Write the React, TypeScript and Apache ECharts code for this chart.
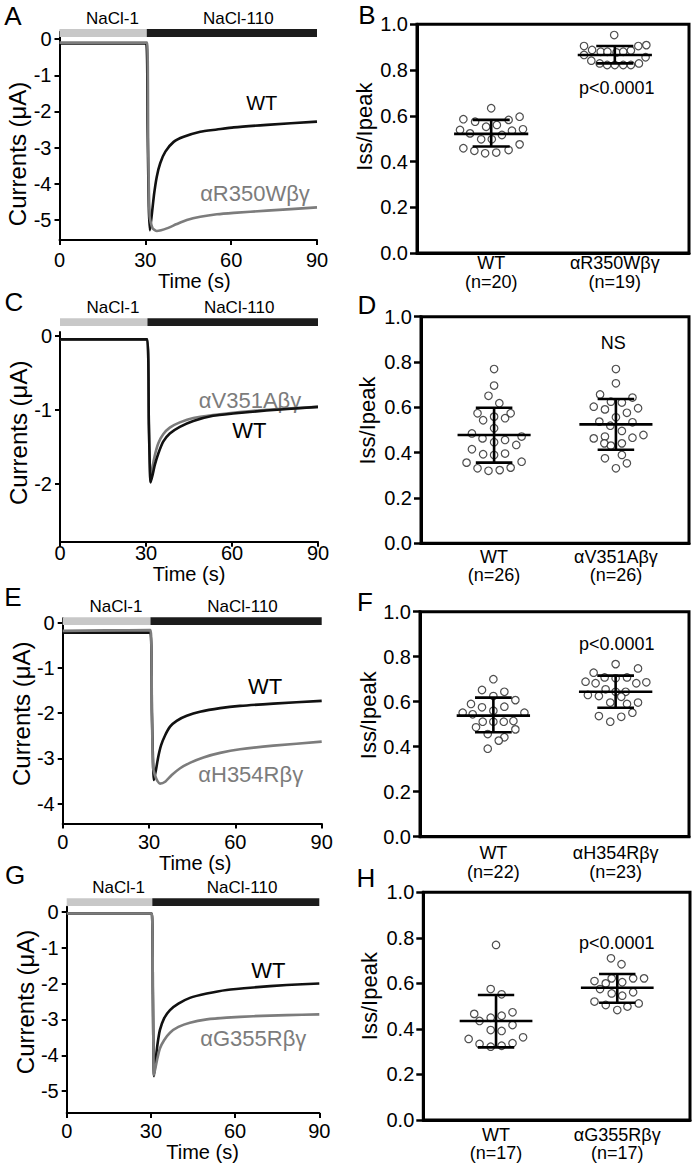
import React, { useEffect, useRef } from "react";
import * as echarts from "echarts";

const FONT = '"Liberation Sans", Arial, Helvetica, sans-serif';

// ---------------- Current traces (time in s, current in µA) ----------------
const timeTicks = [0, 30, 60, 90];
const stimStart = [0, 30.5];
const stimEnd = [30.5, 90];
const stimLabelTime = [18.5, 62.5];
const stimNames = ["NaCl-1", "NaCl-110"];

// Panel A
const tA_WT = [0, 15, 30.3, 30.8, 31.2, 31.6, 32.3, 33.1, 34, 35.2, 37, 39.9, 43.4, 49.2, 55, 60.9, 72.5, 90];
const iA_WT = [-0.12, -0.12, -0.12, -2.5, -4.6, -5.28, -4.82, -4.26, -3.8, -3.43, -3.11, -2.84, -2.7, -2.56, -2.5, -2.44, -2.37, -2.28];
const tA_MUT = [0, 15, 30.6, 31.0, 31.5, 32.5, 34, 35.5, 37.5, 41, 44.5, 49.2, 55, 60.9, 72.5, 90];
const iA_MUT = [-0.1, -0.1, -0.1, -3.0, -4.9, -5.22, -5.3, -5.28, -5.23, -5.11, -5.0, -4.91, -4.84, -4.8, -4.74, -4.65];
const ticksA = [0, -1, -2, -3, -4, -5];

// Panel C
const tC_WT = [0, 15, 30.4, 31.0, 31.6, 32.3, 33.1, 34.3, 36, 38.3, 41.8, 46.5, 53.4, 60.4, 72, 90];
const iC_WT = [-0.05, -0.05, -0.05, -1.2, -1.98, -1.88, -1.74, -1.59, -1.43, -1.32, -1.23, -1.15, -1.08, -1.05, -1.01, -0.96];
const tC_MUT = [0, 15, 30.4, 31.0, 31.6, 32.3, 33.1, 34.3, 36, 38.3, 41.8, 46.5, 53.4, 60.4, 72, 90];
const iC_MUT = [-0.05, -0.05, -0.05, -1.2, -1.97, -1.77, -1.61, -1.45, -1.33, -1.24, -1.17, -1.11, -1.07, -1.04, -1.0, -0.96];
const ticksC = [0, -1, -2];

// Panel E
const tE_WT = [0, 15, 30.5, 31.0, 31.7, 32.4, 33.2, 34.2, 35.6, 37.3, 39.6, 43.1, 47.7, 54.7, 61.6, 73.2, 90];
const iE_WT = [-0.22, -0.22, -0.22, -2.0, -3.48, -3.26, -2.97, -2.71, -2.49, -2.3, -2.17, -2.06, -1.97, -1.89, -1.84, -1.79, -1.73];
const tE_MUT = [0, 15, 30.5, 31.0, 31.4, 32.1, 32.9, 33.8, 35.6, 37.9, 40.8, 44.2, 48.9, 54.7, 61.6, 73.2, 90];
const iE_MUT = [-0.18, -0.17, -0.16, -2.0, -3.2, -3.38, -3.5, -3.56, -3.52, -3.37, -3.22, -3.1, -2.98, -2.88, -2.8, -2.72, -2.63];
const ticksE = [0, -1, -2, -3, -4];

// Panel G
const tG_WT = [0, 15, 30.3, 30.7, 31.1, 31.7, 32.3, 33.2, 34.7, 36.8, 39.8, 43.9, 49.9, 57, 66.5, 78.4, 90];
const iG_WT = [-0.05, -0.05, -0.05, -2.3, -4.58, -4.14, -3.72, -3.3, -2.97, -2.74, -2.56, -2.4, -2.28, -2.18, -2.11, -2.04, -2.0];
const tG_MUT = [0, 15, 30.3, 30.7, 31.1, 31.7, 32.3, 33.2, 34.7, 36.8, 39.8, 43.9, 49.9, 57, 66.5, 78.4, 90];
const iG_MUT = [-0.05, -0.05, -0.05, -2.3, -4.55, -4.32, -4.09, -3.81, -3.58, -3.37, -3.21, -3.09, -3.0, -2.95, -2.91, -2.88, -2.86];
const ticksG = [0, -1, -2, -3, -4, -5];

// ---------------- Iss/Ipeak scatter data ----------------
const ratioTicks = [0, 0.2, 0.4, 0.6, 0.8, 1.0];

// Panel B
const catsB = ["WT", "αR350Wβγ"];
const nB = [20, 19];
const bWtVals = [0.633, 0.585, 0.574, 0.582, 0.596, 0.552, 0.56, 0.538, 0.523, 0.535, 0.541, 0.516, 0.497, 0.497, 0.458, 0.447, 0.436, 0.439, 0.45, 0.475];
const bWtOffs = [0, -0.225, -0.13, 0.141, 0.23, -0.041, 0.046, -0.252, -0.171, 0.168, 0.257, 0.087, -0.081, 0.005, -0.225, -0.136, -0.049, 0.041, 0.141, 0.23];
const bMutVals = [0.953, 0.905, 0.888, 0.88, 0.88, 0.877, 0.88, 0.885, 0.905, 0.909, 0.866, 0.856, 0.841, 0.829, 0.822, 0.822, 0.822, 0.822, 0.829];
const bMutOffs = [-0.005, -0.249, -0.184, -0.114, -0.06, 0.014, 0.068, 0.13, 0.19, 0.255, -0.249, 0.249, -0.19, -0.122, -0.062, 0, 0.068, 0.13, 0.195];
const bMean = [0.521, 0.866];
const bLow = [0.466, 0.829];
const bHigh = [0.582, 0.905];

// Panel D
const catsD = ["WT", "αV351Aβγ"];
const nD = [26, 26];
const dWtVals = [0.769, 0.696, 0.651, 0.618, 0.574, 0.559, 0.574, 0.543, 0.552, 0.508, 0.485, 0.463, 0.446, 0.456, 0.471, 0.434, 0.415, 0.393, 0.39, 0.396, 0.356, 0.36, 0.331, 0.32, 0.323, 0.334];
const dWtOffs = [0, 0, -0.046, 0.043, -0.136, 0, 0.136, -0.09, 0.09, 0, -0.182, -0.095, 0, 0.09, 0.226, 0.182, -0.182, -0.09, 0, 0.09, -0.226, 0.226, -0.136, -0.046, 0.046, 0.136];
const dMutVals = [0.769, 0.706, 0.657, 0.643, 0.625, 0.621, 0.603, 0.591, 0.596, 0.556, 0.576, 0.537, 0.519, 0.534, 0.496, 0.463, 0.471, 0.466, 0.478, 0.441, 0.431, 0.441, 0.375, 0.39, 0.353, 0.331];
const dMutOffs = [0, 0, -0.13, 0.136, -0.041, 0.049, -0.182, -0.09, 0.182, 0, 0.09, -0.136, -0.046, 0.136, 0.049, -0.182, -0.09, 0.136, 0.226, -0.095, -0.041, 0.049, -0.09, 0.049, 0.09, 0];
const dMean = [0.478, 0.525];
const dLow = [0.356, 0.413];
const dHigh = [0.598, 0.637];

// Panel F
const catsF = ["WT", "αH354Rβγ"];
const nF = [22, 23];
const fWtVals = [0.7, 0.652, 0.644, 0.625, 0.607, 0.59, 0.575, 0.578, 0.56, 0.551, 0.544, 0.551, 0.511, 0.511, 0.511, 0.514, 0.486, 0.477, 0.456, 0.442, 0.427, 0.391];
const fWtOffs = [0, -0.093, 0.09, 0, 0.18, -0.183, -0.093, 0.09, 0, -0.251, -0.169, 0.254, -0.087, 0, 0.085, 0.164, -0.142, 0.18, -0.046, 0.09, 0.044, -0.046];
const fMutVals = [0.767, 0.729, 0.748, 0.708, 0.704, 0.708, 0.689, 0.682, 0.682, 0.686, 0.655, 0.644, 0.644, 0.63, 0.625, 0.622, 0.596, 0.59, 0.596, 0.551, 0.536, 0.511, 0.533];
const fMutOffs = [0, -0.18, 0.183, -0.09, 0, 0.093, -0.246, -0.164, 0.169, 0.251, -0.082, 0, 0.082, -0.227, -0.137, 0.046, -0.044, 0.093, 0.183, 0.137, -0.137, -0.044, 0.046];
const fMean = [0.538, 0.644];
const fLow = [0.464, 0.573];
const fHigh = [0.618, 0.716];

// Panel H
const catsH = ["WT", "αG355Rβγ"];
const nH = [17, 17];
const hWtVals = [0.769, 0.575, 0.552, 0.466, 0.435, 0.449, 0.458, 0.473, 0.417, 0.395, 0.391, 0.363, 0.356, 0.334, 0.322, 0.326, 0.337];
const hWtOffs = [0, -0.044, 0.046, -0.18, -0.136, -0.044, 0.046, 0.136, 0.136, -0.044, 0.046, 0.223, -0.226, -0.136, -0.044, 0.046, 0.136];
const hMutVals = [0.71, 0.684, 0.61, 0.6, 0.622, 0.605, 0.622, 0.622, 0.575, 0.556, 0.546, 0.561, 0.52, 0.505, 0.483, 0.498, 0.512];
const hMutOffs = [-0.052, 0.035, -0.188, -0.095, -0.046, 0.041, 0.131, 0.221, -0.142, -0.046, 0.041, 0.131, -0.188, -0.095, 0, 0.084, 0.177];
const hMean = [0.435, 0.581];
const hLow = [0.319, 0.515];
const hHigh = [0.549, 0.641];

// ---------------- Layout (pixels) ----------------
const tracePanels = [
  {
    letter: "A", letterPos: [13, 16],
    grid: { left: 59.5, top: 31.8, width: 257.5, height: 208.2 },
    yMin: -5.55, yMax: 0.2, ticks: ticksA,
    wt: [tA_WT, iA_WT], mut: [tA_MUT, iA_MUT], mutName: "αR350Wβγ",
    xLabelMargin: 10, xNameGap: 25, xNameShift: 6, yNameGap: 30.5, yNameShift: 18,
    bar: [0.055, 0.276], wtLabel: [261.7, 103.3, 20], mutLabel: [255, 193.3], wtOnTop: false,
  },
  {
    letter: "C", letterPos: [14, 302],
    grid: { left: 60, top: 332, width: 258, height: 209.7 },
    yMin: -2.78, yMax: 0.05, ticks: ticksC,
    wt: [tC_WT, iC_WT], mut: [tC_MUT, iC_MUT], mutName: "αV351Aβγ",
    xLabelMargin: 1, xNameGap: 20, xNameShift: 0, yNameGap: 27, yNameShift: -4,
    bar: [0.13, 0.235], wtLabel: [249.3, 430, 22], mutLabel: [250, 400], wtOnTop: true,
  },
  {
    letter: "E", letterPos: [13, 597],
    grid: { left: 62.7, top: 618.2, width: 259, height: 205.2 },
    yMin: -4.44, yMax: 0.1, ticks: ticksE,
    wt: [tE_WT, iE_WT], mut: [tE_MUT, iE_MUT], mutName: "αH354Rβγ",
    xLabelMargin: 8.3, xNameGap: 25, xNameShift: 3, yNameGap: 28, yNameShift: -7,
    bar: [-0.05, 0.12], wtLabel: [265, 686.7, 22], mutLabel: [250.7, 774], wtOnTop: false,
  },
  {
    letter: "G", letterPos: [15, 875],
    grid: { left: 66.7, top: 906.7, width: 252.6, height: 206.4 },
    yMin: -5.61, yMax: 0.14, ticks: ticksG,
    wt: [tG_WT, iG_WT], mut: [tG_MUT, iG_MUT], mutName: "αG355Rβγ",
    xLabelMargin: 8.3, xNameGap: 27, xNameShift: 9.5, yNameGap: 28.7, yNameShift: -8,
    bar: [0.16, 0.373], wtLabel: [268.3, 970, 22], mutLabel: [253.3, 1038.3], wtOnTop: false,
  },
];

const scatterPanels = [
  {
    letter: "B", letterPos: [367, 15],
    grid: { left: 417, top: 24.3, width: 272, height: 228.7 },
    cats: catsB, ns: nB, wt: [bWtOffs, bWtVals], mut: [bMutOffs, bMutVals],
    mean: bMean, low: bLow, high: bHigh,
    labelMargin: 1, yNameGap: 42, yNameShift: -12, note: "p<0.0001", notePos: [616.7, 88.3],
  },
  {
    letter: "D", letterPos: [367, 305],
    grid: { left: 421, top: 316.7, width: 268, height: 226.6 },
    cats: catsD, ns: nD, wt: [dWtOffs, dWtVals], mut: [dMutOffs, dMutVals],
    mean: dMean, low: dLow, high: dHigh,
    labelMargin: 4.2, yNameGap: 42.5, yNameShift: -9.5, note: "NS", notePos: [613.3, 343.3],
  },
  {
    letter: "F", letterPos: [365, 602],
    grid: { left: 420, top: 611.7, width: 269, height: 225 },
    cats: catsF, ns: nF, wt: [fWtOffs, fWtVals], mut: [fMutOffs, fMutVals],
    mean: fMean, low: fLow, high: fHigh,
    labelMargin: 7.3, yNameGap: 40, yNameShift: -9, note: "p<0.0001", notePos: [616.7, 644],
  },
  {
    letter: "H", letterPos: [366, 878],
    grid: { left: 423.3, top: 892.3, width: 266.7, height: 227.7 },
    cats: catsH, ns: nH, wt: [hWtOffs, hWtVals], mut: [hMutOffs, hMutVals],
    mean: hMean, low: hLow, high: hHigh,
    labelMargin: 5.7, yNameGap: 43, yNameShift: -10, note: "p<0.0001", notePos: [616.7, 942.7],
  },
];

// shift a centered axis name along its reading direction using padding
function shiftPad(shift: number) {
  return shift >= 0 ? [0, 0, 0, 2 * shift] : [0, -2 * shift, 0, 0];
}
// rotated y name: positive shift = move down on screen
function shiftPadRot(shift: number) {
  return shift >= 0 ? [0, 2 * shift, 0, 0] : [0, 0, 0, -2 * shift];
}

function txt(text: string, x: number, y: number, size: number, color = "#000", weight = "normal") {
  return {
    type: "text",
    x,
    y,
    silent: true,
    style: {
      text,
      fill: color,
      font: `${weight} ${size}px ${FONT}`,
      align: "center",
      verticalAlign: "middle",
      textAlign: "center",
      textVerticalAlign: "middle",
    },
  };
}

function buildOption() {
  const grid: any[] = [];
  const xAxis: any[] = [];
  const yAxis: any[] = [];
  const series: any[] = [];
  const graphic: any[] = [];

  tracePanels.forEach((p, i) => {
    grid.push({ ...p.grid, show: false, containLabel: false, outerBoundsMode: "none" });
    xAxis.push({
      gridIndex: i,
      type: "value",
      min: 0,
      max: 90,
      interval: 30,
      name: "Time (s)",
      nameLocation: "middle",
      nameGap: p.xNameGap,
      nameTextStyle: { fontSize: 20, lineHeight: 20, color: "#000", fontFamily: FONT, padding: shiftPad(p.xNameShift) },
      axisLine: { show: true, onZero: false, lineStyle: { color: "#000", width: 2 } },
      axisTick: { show: true, length: 5, lineStyle: { color: "#000", width: 2 } },
      axisLabel: { fontSize: 20, lineHeight: 20, color: "#000", margin: p.xLabelMargin, fontFamily: FONT, customValues: timeTicks },
      splitLine: { show: false },
    });
    yAxis.push({
      gridIndex: i,
      type: "value",
      min: p.yMin,
      max: p.yMax,
      name: "Currents (μA)",
      nameLocation: "middle",
      nameGap: p.yNameGap,
      nameTextStyle: { fontSize: 24, lineHeight: 24, color: "#000", fontFamily: FONT, padding: shiftPadRot(p.yNameShift) },
      axisLine: { show: true, onZero: false, lineStyle: { color: "#000", width: 2 } },
      axisTick: { show: true, length: 5, customValues: p.ticks, lineStyle: { color: "#000", width: 2 } },
      axisLabel: {
        customValues: p.ticks,
        fontSize: 20,
        color: "#000",
        margin: 8,
        fontFamily: FONT,
        formatter: (v: number) => String(Math.round(v)),
      },
      splitLine: { show: false },
    });

    const wtSeries = {
      type: "line",
      name: "WT",
      xAxisIndex: i,
      yAxisIndex: i,
      data: p.wt[0].map((t: number, k: number) => [t, p.wt[1][k]]),
      showSymbol: false,
      smooth: 0.2,
      lineStyle: { color: "#111", width: 2.6 },
      silent: true,
      z: p.wtOnTop ? 4 : 3,
    };
    const mutSeries = {
      type: "line",
      name: p.mutName,
      xAxisIndex: i,
      yAxisIndex: i,
      data: p.mut[0].map((t: number, k: number) => [t, p.mut[1][k]]),
      showSymbol: false,
      smooth: 0.2,
      lineStyle: { color: "#7c7c7c", width: 2.6 },
      silent: true,
      z: p.wtOnTop ? 3 : 4,
    };
    series.push(wtSeries, mutSeries);

    // stimulus bars with labels
    const bar = p.bar;
    series.push({
      type: "custom",
      xAxisIndex: i,
      yAxisIndex: i,
      clip: false,
      silent: true,
      z: 5,
      data: stimStart.map((s, k) => [s, stimEnd[k], stimLabelTime[k], k]),
      renderItem: (_params: any, api: any) => {
        const t0 = api.value(0);
        const t1 = api.value(1);
        const tl = api.value(2);
        const k = api.value(3);
        const p0 = api.coord([t0, bar[0]]);
        const p1 = api.coord([t1, bar[1]]);
        const pl = api.coord([tl, bar[1]]);
        return {
          type: "group",
          children: [
            {
              type: "rect",
              shape: { x: p0[0], y: p1[1], width: p1[0] - p0[0], height: p0[1] - p1[1] },
              style: { fill: k === 0 ? "#c8c8c8" : "#1c1c1c" },
            },
            {
              type: "text",
              x: pl[0],
              y: pl[1] - 11,
              style: {
                text: stimNames[k],
                fill: "#000",
                font: `17px ${FONT}`,
                align: "center",
                verticalAlign: "middle",
                textAlign: "center",
                textVerticalAlign: "middle",
              },
            },
          ],
        };
      },
    });

    graphic.push(txt(p.letter, p.letterPos[0], p.letterPos[1], 26));
    graphic.push(txt("WT", p.wtLabel[0], p.wtLabel[1], p.wtLabel[2], "#000"));
    graphic.push(txt(p.mutName, p.mutLabel[0], p.mutLabel[1], 22, "#7c7c7c"));
  });

  scatterPanels.forEach((p, j) => {
    const i = tracePanels.length + j;
    grid.push({
      ...p.grid,
      show: true,
      borderColor: "#000",
      borderWidth: 3,
      backgroundColor: "transparent",
      containLabel: false,
      outerBoundsMode: "none",
    });
    xAxis.push({
      gridIndex: i,
      type: "value",
      min: -0.6,
      max: 1.6,
      axisLine: { show: true, onZero: false, lineStyle: { color: "#000", width: 3 } },
      axisTick: { show: false },
      axisLabel: {
        customValues: [0, 1],
        fontSize: 18,
        lineHeight: 18.5,
        color: "#000",
        fontFamily: FONT,
        margin: p.labelMargin,
        formatter: (v: number) => {
          const k = Math.round(v);
          return `${p.cats[k]}\n(n=${p.ns[k]})`;
        },
      },
      splitLine: { show: false },
    });
    yAxis.push({
      gridIndex: i,
      type: "value",
      min: 0,
      max: 1,
      interval: 0.2,
      name: "Iss/Ipeak",
      nameLocation: "middle",
      nameGap: p.yNameGap,
      nameTextStyle: { fontSize: 22, lineHeight: 22, color: "#000", fontFamily: FONT, padding: shiftPadRot(p.yNameShift) },
      axisLine: { show: true, onZero: false, lineStyle: { color: "#000", width: 3 } },
      axisTick: { show: true, length: 7, customValues: ratioTicks, lineStyle: { color: "#000", width: 2.5 } },
      axisLabel: {
        customValues: ratioTicks,
        fontSize: 20,
        color: "#000",
        margin: 9,
        fontFamily: FONT,
        formatter: (v: number) => v.toFixed(1),
      },
      splitLine: { show: false },
    });

    const dotStyle = { color: "#ffffff", borderColor: "#222", borderWidth: 1.2 };
    series.push({
      type: "scatter",
      name: p.cats[0],
      xAxisIndex: i,
      yAxisIndex: i,
      data: p.wt[1].map((v: number, k: number) => [0 + p.wt[0][k], v]),
      symbol: "circle",
      symbolSize: 7.5,
      itemStyle: dotStyle,
      silent: true,
      z: 3,
    });
    series.push({
      type: "scatter",
      name: p.cats[1],
      xAxisIndex: i,
      yAxisIndex: i,
      data: p.mut[1].map((v: number, k: number) => [1 + p.mut[0][k], v]),
      symbol: "circle",
      symbolSize: 7.5,
      itemStyle: dotStyle,
      silent: true,
      z: 3,
    });
    series.push({
      type: "custom",
      xAxisIndex: i,
      yAxisIndex: i,
      silent: true,
      z: 4,
      data: p.mean.map((m: number, k: number) => [k, m, p.low[k], p.high[k]]),
      renderItem: (_params: any, api: any) => {
        const x = api.value(0);
        const m = api.value(1);
        const lo = api.value(2);
        const hi = api.value(3);
        const style = { stroke: "#000", lineWidth: 2.6 };
        const seg = (a: number[], b: number[]) => ({
          type: "line",
          shape: { x1: a[0], y1: a[1], x2: b[0], y2: b[1] },
          style,
        });
        return {
          type: "group",
          children: [
            seg(api.coord([x - 0.3, m]), api.coord([x + 0.3, m])),
            seg(api.coord([x - 0.15, lo]), api.coord([x + 0.15, lo])),
            seg(api.coord([x - 0.15, hi]), api.coord([x + 0.15, hi])),
            seg(api.coord([x, lo]), api.coord([x, hi])),
          ],
        };
      },
    });

    graphic.push(txt(p.letter, p.letterPos[0], p.letterPos[1], 26));
    graphic.push(txt(p.note, p.notePos[0], p.notePos[1], 18));
  });

  return {
    animation: false,
    backgroundColor: "#ffffff",
    textStyle: { fontFamily: FONT, color: "#000" },
    grid,
    xAxis,
    yAxis,
    series,
    graphic: { elements: graphic },
  };
}

export default function App() {
  const ref = useRef<HTMLDivElement>(null);
  useEffect(() => {
    document.body.style.margin = "0";
    if (!ref.current) return;
    const chart = echarts.init(ref.current, null, { renderer: "svg", width: 693, height: 1165 });
    chart.setOption(buildOption() as any);
    return () => {
      chart.dispose();
    };
  }, []);
  return <div ref={ref} style={{ width: 693, height: 1165 }} />;
}
